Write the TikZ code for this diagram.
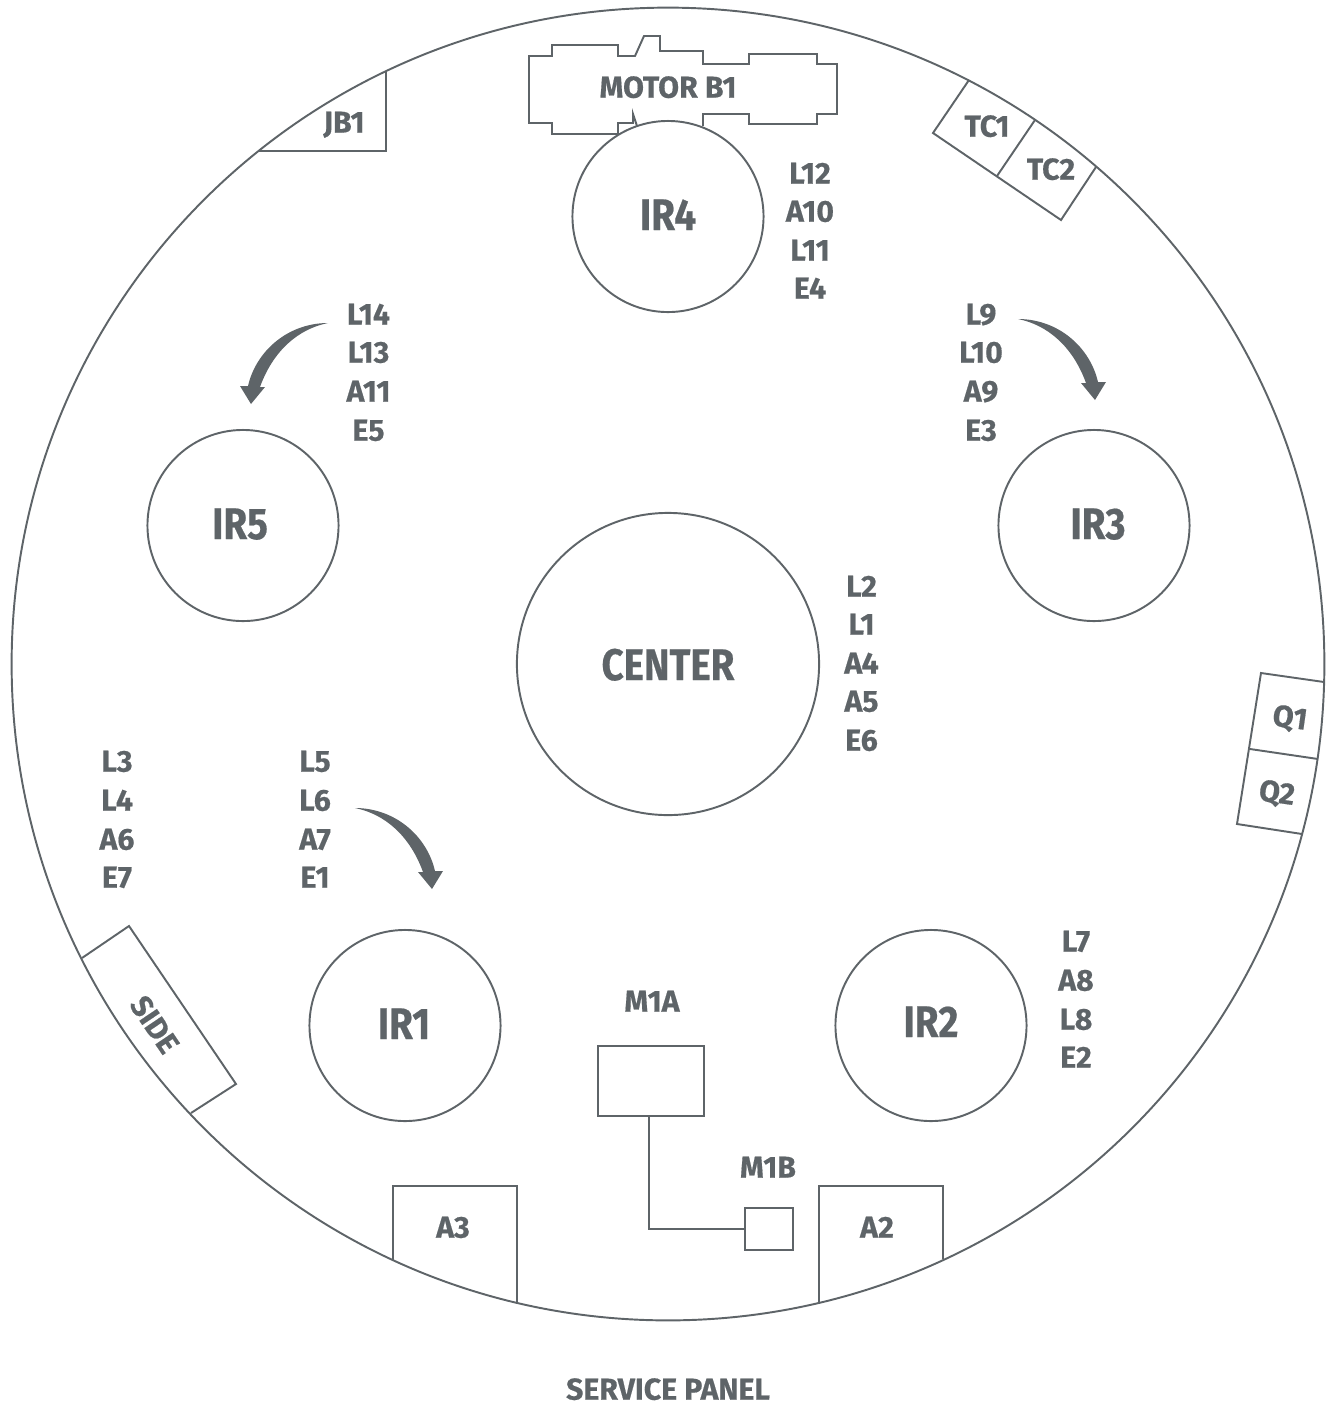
\documentclass[tikz,border=0pt]{standalone}
\usepackage{fontspec}
\setmainfont{Fira Sans}
\newfontfamily\plansmall[BoldFeatures={FakeBold=0.5}]{Fira Sans}
\newfontfamily\planbig[BoldFeatures={FakeBold=0.5,FakeStretch=0.87}]{Fira Sans}
\definecolor{plangray}{HTML}{5E6468}
\tikzset{
	small/.style={text=plangray, font=\plansmall\fontsize{8.6}{10}\selectfont\bfseries, inner sep=0pt, text height=5.5pt, text depth=0pt},
	big/.style={text=plangray, font=\planbig\fontsize{12.6}{14}\selectfont\bfseries, inner sep=0pt, text height=8.6pt, text depth=0pt},
	wheel/.style={draw=plangray, line width=0.55pt, circle, inner sep=0pt, outer sep=0pt, minimum size=#1},
	box/.style={draw=plangray, line width=0.55pt, inner sep=0pt, outer sep=0pt},
	edge/.style={draw=plangray, line width=0.55pt},
	turnarrow/.pic={
		\fill[plangray] (0,0) .. controls (40,0) and (72,28) .. (80,63) -- (88,63) -- (77,81) -- (63,64) -- (68,64) .. controls (55,28) and (30,6) .. (0,0) -- cycle;
	}
}
\begin{document}
\begin{tikzpicture}[x=0.01cm, y=-0.01cm]
	\useasboundingbox (0,0) rectangle (1334,1408);

	%outer ring
	\node[wheel=13.12cm] (rim) at (668,664){};

	%round stations
	\node[wheel=1.91cm] (ir4) at (668,216.5){};
	\node[wheel=1.91cm] (ir5) at (243,525.5){};
	\node[wheel=1.91cm] (ir3) at (1094,525.5){};
	\node[wheel=3.02cm] (center) at (668,664){};
	\node[wheel=1.91cm] (ir1) at (405,1025.5){};
	\node[wheel=1.91cm] (ir2) at (931,1025.5){};

	\node[big] (tir4) at (668,215){IR4};
	\node[big] (tir5) at (240,524){IR5};
	\node[big] (tir3) at (1098,524){IR3};
	\node[big] (tcenter) at (668,665){CENTER};
	\node[big] (tir1) at (404,1024){IR1};
	\node[big] (tir2) at (931,1022){IR2};

	%motor outline
	\draw[edge] (618,134) -- (618,123) -- (633,123) -- (633,114) -- (637,126);
	\draw[edge] (618,134) -- (552,134) -- (552,123) -- (529,123) -- (529,56) -- (552,56) -- (552,45) -- (618,45) -- (618,56) -- (635,56) -- (644,36) -- (660,36) -- (660,51) -- (703,51) -- (703,64) -- (749,64) -- (749,54) -- (817,54) -- (817,64) -- (837,64) -- (837,114) -- (817,114) -- (817,124) -- (749,124) -- (749,114) -- (703,114) -- (703,126);
	\node[small] (motor) at (668,88){MOTOR B1};

	%boxes on the ring
	\draw[edge] (258,151) -- (386,151) -- (386,71);
	\node[small] (jb1) at (344,123){JB1};

	\draw[edge] (969,80) -- (933,133) -- (1061,220) -- (1096,167);
	\draw[edge] (1035,120) -- (997,176);
	\node[small] (tc1) at (987,127){TC1};
	\node[small] (tc2) at (1051,170){TC2};

	\draw[edge] (1324,682) -- (1261,673) -- (1237,824) -- (1302,834);
	\draw[edge] (1250,749) -- (1318,759);
	\node[small, rotate=-8] (q1) at (1290,718){Q1};
	\node[small, rotate=-8] (q2) at (1277,793){Q2};

	\draw[edge] (82,958) -- (129,926) -- (236,1084) -- (191,1113);
	\node[small, rotate=-56] (side) at (154,1025){SIDE};

	\draw[edge] (393,1261) -- (393,1186) -- (517,1186) -- (517,1303);
	\node[small] (a3) at (453,1228){A3};
	\draw[edge] (819,1303) -- (819,1186) -- (943,1186) -- (943,1259);
	\node[small] (a2) at (877,1228){A2};

	%m1 boxes
	\node[box, minimum width=1.06cm, minimum height=0.70cm] (m1a) at (651,1081){};
	\node[box, minimum width=0.48cm, minimum height=0.42cm] (m1b) at (769,1229){};
	\draw[edge] ([xshift=-0.02cm]m1a.south) |- (m1b.west);
	\node[small] (tm1a) at (652,1002){M1A};
	\node[small] (tm1b) at (768,1168){M1B};

	%arrows
	\pic at (355,808) {turnarrow};
	\pic at (1018,319) {turnarrow};
	\pic[xscale=-1] at (328,323) {turnarrow};

	%labels
	\node[small] (l12) at (810,174){L12};
	\node[small] (a10) at (810,212){A10};
	\node[small] (l11) at (810,251){L11};
	\node[small] (e4) at (810,289){E4};

	\node[small] (l14) at (368.5,315){L14};
	\node[small] (l13) at (368.5,353){L13};
	\node[small] (a11) at (368.5,392){A11};
	\node[small] (e5) at (368.5,431){E5};

	\node[small] (l9) at (981,315){L9};
	\node[small] (l10) at (981,353){L10};
	\node[small] (a9) at (981,392){A9};
	\node[small] (e3) at (981,431){E3};

	\node[small] (l2) at (861.5,587){L2};
	\node[small] (l1) at (861.5,625){L1};
	\node[small] (a4) at (861.5,664){A4};
	\node[small] (a5) at (861.5,702){A5};
	\node[small] (e6) at (861.5,741){E6};

	\node[small] (l3) at (117,762){L3};
	\node[small] (l4) at (117,801){L4};
	\node[small] (a6) at (117,840){A6};
	\node[small] (e7) at (117,878){E7};

	\node[small] (l5) at (315,762){L5};
	\node[small] (l6) at (315,801){L6};
	\node[small] (a7) at (315,840){A7};
	\node[small] (e1) at (315,878){E1};

	\node[small] (l7) at (1076,942){L7};
	\node[small] (a8) at (1076,981){A8};
	\node[small] (l8) at (1076,1020){L8};
	\node[small] (e2) at (1076,1058){E2};

	\node[small] (panel) at (668,1390){SERVICE PANEL};
\end{tikzpicture}
\end{document}
